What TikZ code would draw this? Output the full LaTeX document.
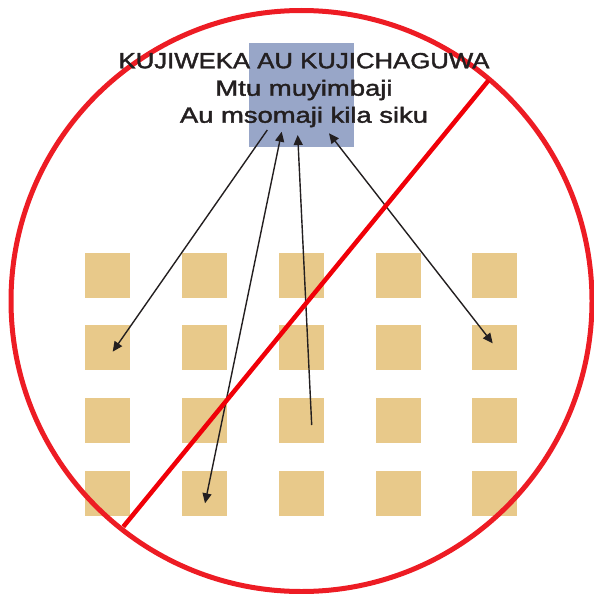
\documentclass[tikz,border=0pt]{standalone}
\usepackage{graphicx}
\usepackage{fontspec}
\setmainfont{Liberation Sans}
\newfontfamily\signfont[FakeBold=1.6]{Liberation Sans}
\usetikzlibrary{arrows.meta}
\definecolor{boxblue}{RGB}{152,166,200}
\definecolor{sand}{RGB}{232,201,138}
\definecolor{signred}{RGB}{237,28,36}
\definecolor{barred}{RGB}{240,0,8}
\definecolor{ink}{RGB}{35,31,32}
\tikzset{
  seat/.style={fill=sand, minimum size=45pt, inner sep=0pt},
  lbl/.style={anchor=base, inner sep=0pt, text=ink,
              font=\signfont\fontsize{22}{26}\selectfont},
  arr/.style={-{Triangle[length=10pt,width=9pt]}, line width=1.4pt, draw=ink},
  darr/.style={{Triangle[length=10pt,width=9pt]}-{Triangle[length=10pt,width=9pt]},
               line width=1.4pt, draw=ink}}

\begin{document}
\begin{tikzpicture}[x=1pt,y=-1pt]
  \useasboundingbox (0,0) rectangle (594,594);
  \node[fill=boxblue, minimum width=105pt, minimum height=104pt, inner sep=0pt] (box) at (301.5,95) {};
  % grid of seats
  \foreach \c/\x in {1/107.5,2/204.5,3/301.5,4/398.5,5/494.5}
    \foreach \r/\y in {1/275.5,2/347.3,3/420.3,4/493.3}
      \node[seat] (s\r\c) at (\x,\y) {};
  \draw[arr] ([shift={(-34.2,35)}]box.center) -- ([shift={(5.2,4.4)}]s21.center);
  \draw[darr] ([shift={(-19.8,36.7)}]box.center) -- ([shift={(0.5,10)}]s42.center);
  \draw[arr] ([shift={(10.2,4.7)}]s33.center) -- ([shift={(-3.8,40)}]box.center);
  \draw[darr] ([shift={(27.5,38.3)}]box.center) -- ([shift={(-1.8,-4)}]s25.center);
  % prohibition sign
  \draw[signred, line width=5pt] (301.5,301) circle[radius=290.5];
  \draw[barred, line width=4.5pt] (488.6,80.3) -- (123.3,526.7);
  \node[lbl] (title) at (304,68.3) {\scalebox{1.17}[1]{KUJIWEKA AU KUJICHAGUWA}};
  \node[lbl] (who) at (304,95.7) {\scalebox{1.25}[1]{Mtu muyimbaji}};
  \node[lbl] (when) at (304,122.7) {\scalebox{1.245}[1]{Au msomaji kila siku}};
\end{tikzpicture}
\end{document}
